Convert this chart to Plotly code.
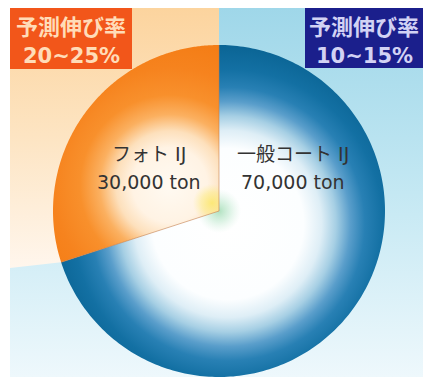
import numpy as np
import plotly.graph_objects as go

# ---- data ----
labels = ["フォト IJ", "一般コート IJ"]
values_ton = [30000, 70000]
growth_title = "予測伸び率"
growth_rates = ["20~25%", "10~15%"]

# ---- geometry / style (pixel-like data space) ----
W, H = 423, 379
CX, CY, R = 219, 211, 166
START_DEG = 90
FONT = "DejaVu Sans, Noto Sans CJK JP"

total = float(sum(values_ton))
spans = []
a = START_DEG
for v in values_ton:
    s = v / total * 360.0
    spans.append((a, a + s))
    a += s


def pt(theta, r):
    t = np.deg2rad(theta)
    return CX + r * np.cos(t), CY - r * np.sin(t)


def sector(a0, a1, r, n=240):
    th = np.linspace(a0, a1, n)
    xs = [CX] + list(CX + r * np.cos(np.deg2rad(th))) + [CX]
    ys = [CY] + list(CY - r * np.sin(np.deg2rad(th))) + [CY]
    return xs, ys


def add_bbox(xs, ys, gx, gy, rg):
    # tiny invisible triangles that set the bounding box of the fill,
    # so that the radial gradient is centred at (gx, gy) with radius rg
    xs = list(xs); ys = list(ys)
    for (px, py) in [(gx - rg, gy - rg), (gx + rg, gy + rg)]:
        xs += [None, px, px + 0.01, px, px]
        ys += [None, py, py, py + 0.01, py]
    return xs, ys


fig = go.Figure()

# background light blue
fig.add_trace(go.Scatter(
    x=[10, W, W, 10, 10], y=[8, 8, 377, 377, 8], mode="none", fill="toself",
    fillgradient=dict(type="vertical", start=8, stop=377,
                      colorscale=[[0, "#9fd7e9"], [0.5, "#c4e8f3"], [1, "#eef8fc"]]),
    hoverinfo="skip", showlegend=False))

# cream wedge behind the photo slice
p_top = pt(spans[0][0], R)
p_low = pt(spans[0][1], R)
WEDGE_LEFT_Y = 268
fig.add_trace(go.Scatter(
    x=[CX, CX, 10, 10, p_low[0], CX], y=[CY, 8, 8, WEDGE_LEFT_Y, p_low[1], CY],
    mode="none", fill="toself",
    fillgradient=dict(type="vertical", start=8, stop=275,
                      colorscale=[[0, "#fcd49e"], [0.5, "#fde5c4"], [1, "#fff7ef"]]),
    hoverinfo="skip", showlegend=False))

# blue slice
bx, by = sector(spans[1][0], spans[1][1], R)
bx, by = add_bbox(bx, by, 228, 224, 180)
fig.add_trace(go.Scatter(
    x=bx, y=by, mode="none", fill="toself", line_simplify=False,
    fillgradient=dict(type="radial",
                      colorscale=[[0, "#ffffff"], [0.42, "#fcfeff"], [0.52, "#deeef6"],
                                  [0.6, "#a6cfe4"], [0.68, "#5a9ecb"], [0.76, "#2880b4"],
                                  [0.86, "#1370a3"], [1, "#0a6494"]]),
    hoverinfo="skip", showlegend=False))

# green glow near centre
gx, gy = sector(0, 360, 22)
fig.add_trace(go.Scatter(
    x=gx, y=gy, mode="none", fill="toself",
    fillgradient=dict(type="radial",
                      colorscale=[[0, "rgba(150,215,170,0.75)"], [0.5, "rgba(170,225,190,0.4)"],
                                  [1, "rgba(200,235,215,0)"]]),
    hoverinfo="skip", showlegend=False))

# orange slice
ox, oy = sector(spans[0][0], spans[0][1], R)
ox, oy = add_bbox(ox, oy, 170, 185, 150)
fig.add_trace(go.Scatter(
    x=ox, y=oy, mode="none", fill="toself", line_simplify=False,
    fillgradient=dict(type="radial",
                      colorscale=[[0, "#fffaf2"], [0.25, "#fff3e4"], [0.36, "#fde0bc"],
                                  [0.47, "#fbb060"], [0.6, "#f8902c"], [0.78, "#f6831e"],
                                  [1, "#f47c14"]]),
    hoverinfo="skip", showlegend=False))

# yellow glow in the orange slice
yx, yy = sector(spans[0][0], spans[0][1], 30)
yx, yy = add_bbox(yx, yy, 212, 203, 24)
fig.add_trace(go.Scatter(
    x=yx, y=yy, mode="none", fill="toself", line_simplify=False,
    fillgradient=dict(type="radial",
                      colorscale=[[0, "rgba(252,232,110,0.9)"], [0.45, "rgba(252,234,130,0.55)"],
                                  [0.8, "rgba(252,236,150,0)"], [1, "rgba(252,236,150,0)"]]),
    hoverinfo="skip", showlegend=False))

# thin edges of the orange slice
fig.add_trace(go.Scatter(
    x=[p_top[0], CX, p_low[0]], y=[p_top[1], CY, p_low[1]], mode="lines",
    line=dict(color="rgba(195,120,70,0.55)", width=1),
    hoverinfo="skip", showlegend=False))

# growth boxes
fig.add_shape(type="rect", xref="x", yref="y", x0=10, x1=132, y0=8, y1=69,
              fillcolor="#f2561a", line_width=0, layer="above")
fig.add_shape(type="rect", xref="x", yref="y", x0=305, x1=W, y0=8, y1=68,
              fillcolor="#1b1f8c", line_width=0, layer="above")

box_cfg = [(71, "#ffdcb8"), (364, "#d2d2f4")]
for (xc, col), rate in zip(box_cfg, growth_rates):
    fig.add_annotation(x=xc, y=27, text=growth_title, showarrow=False,
                       xanchor="center", yanchor="middle",
                       font=dict(family=FONT, size=22, color=col, weight="bold"))
    fig.add_annotation(x=xc, y=56, text=rate, showarrow=False,
                       xanchor="center", yanchor="middle",
                       font=dict(family=FONT, size=21, color=col, weight="bold"))

# slice labels
lab_pos = [(149, 154, 182), (293, 154, 182)]
for (xc, y1, y2), lab, v in zip(lab_pos, labels, values_ton):
    fig.add_annotation(x=xc, y=y1, text=lab, showarrow=False,
                       xanchor="center", yanchor="middle",
                       font=dict(family=FONT, size=19, color="#333333"))
    fig.add_annotation(x=xc, y=y2, text=f"{v:,} ton", showarrow=False,
                       xanchor="center", yanchor="middle",
                       font=dict(family=FONT, size=19, color="#333333"))

fig.update_xaxes(range=[0, W], visible=False, fixedrange=True)
fig.update_yaxes(range=[H, 0], visible=False, fixedrange=True)
fig.update_layout(width=W, height=H, margin=dict(l=0, r=0, t=0, b=0),
                  paper_bgcolor="white", plot_bgcolor="white", showlegend=False)

fig.write_html("out.html", config={"displayModeBar": False})
